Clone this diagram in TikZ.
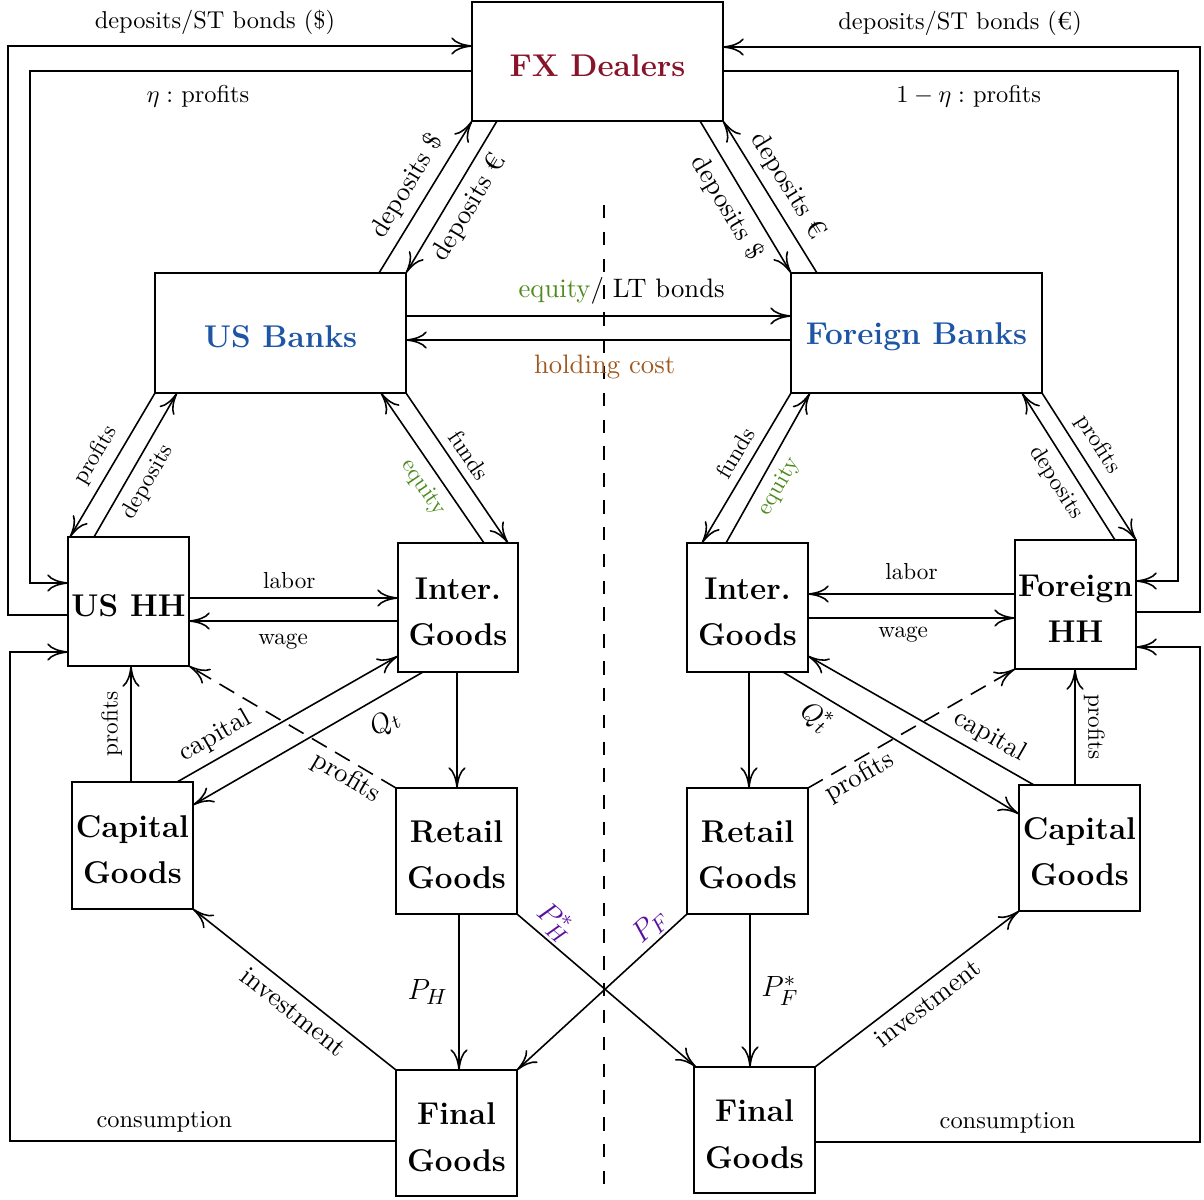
\documentclass[tikz,border=0pt]{standalone}
\usetikzlibrary{arrows.meta,calc}
\definecolor{fxred}{RGB}{135,20,42}
\definecolor{bankblue}{RGB}{30,85,165}
\definecolor{eqgreen}{RGB}{78,138,30}
\definecolor{costbrown}{RGB}{160,88,30}
\definecolor{pricepurple}{RGB}{90,15,160}
\newcommand\boxstrut{\rule{0pt}{12.4pt}}
\begin{document}
\begin{tikzpicture}[x=0.41pt,y=-0.41pt,
  >={To[length=8.5pt,width=7pt]},
  line width=0.65pt,
  box/.style={draw, line width=0.8pt, inner sep=0pt, outer sep=0pt, align=center, font=\fontsize{12.9}{15.5}\selectfont\bfseries},
  lab/.style={font=\fontsize{10}{12}\selectfont},
  mlab/.style={font=\fontsize{10.95}{13}\selectfont},
  slab/.style={font=\fontsize{9.5}{11}\selectfont},
  plab/.style={font=\fontsize{13}{15}\selectfont},
  dflow/.style={->, dash pattern=on 7pt off 4pt},
  sepline/.style={dash pattern=on 5.5pt off 5.5pt, line width=0.6pt}
]
\useasboundingbox (0,0) rectangle (1204,1199);

% separator
\draw[sepline] (604,205) -- (604,1188);

% boxes
\node[box, minimum width=251*0.41pt, minimum height=119*0.41pt, text=fxred] (fx) at (597.5,61.5) {\boxstrut FX Dealers};
\node[box, minimum width=251*0.41pt, minimum height=120*0.41pt, text=bankblue] (usb) at (280.5,333) {\boxstrut US Banks};
\node[box, minimum width=251*0.41pt, minimum height=120*0.41pt, text=bankblue] (fb) at (916.5,333) {\boxstrut Foreign Banks};
\node[box, minimum width=121*0.41pt, minimum height=129*0.41pt] (ushh) at (128.5,601.5) {\boxstrut US HH};
\node[box, minimum width=120*0.41pt, minimum height=129*0.41pt] (intL) at (458,607.5) {\boxstrut Inter.\\[3.4pt]Goods};
\node[box, minimum width=121*0.41pt, minimum height=129*0.41pt] (intR) at (747.5,607.5) {\boxstrut Inter.\\[3.4pt]Goods};
\node[box, minimum width=121*0.41pt, minimum height=129*0.41pt] (fhh) at (1075.5,604.5) {\boxstrut Foreign\\[3.4pt]HH};
\node[box, minimum width=121*0.41pt, minimum height=127*0.41pt] (capL) at (132.5,845.5) {\boxstrut Capital\\[3.4pt]Goods};
\node[box, minimum width=121*0.41pt, minimum height=126*0.41pt] (retL) at (456.5,851) {\boxstrut Retail\\[3.4pt]Goods};
\node[box, minimum width=121*0.41pt, minimum height=126*0.41pt] (retR) at (747.5,851) {\boxstrut Retail\\[3.4pt]Goods};
\node[box, minimum width=121*0.41pt, minimum height=126*0.41pt] (capR) at (1079.5,848) {\boxstrut Capital\\[3.4pt]Goods};
\node[box, minimum width=121*0.41pt, minimum height=126*0.41pt] (finL) at (456.5,1133) {\boxstrut Final\\[3.4pt]Goods};
\node[box, minimum width=121*0.41pt, minimum height=126*0.41pt] (finR) at (754.5,1130) {\boxstrut Final\\[3.4pt]Goods};

% outer loops, left
\draw[->] ($(ushh.north west)+(0,78)$) -| (8,46) -- node[lab, above=1pt, pos=0.446]{deposits/ST bonds (\$)} ($(fx.north west)+(0,44)$);
\draw[->] ($(fx.north west)+(0,69)$) -| node[lab, below=2pt, pos=0.31]{$\eta:$ profits} (30,583) -- ($(ushh.north west)+(0,46)$);
\draw[->] ($(finL.north west)+(0,71)$) -| node[lab, above, pos=0.3]{consumption} (10,652) -- ($(ushh.north west)+(0,115)$);
% outer loops, right
\draw[->] ($(fhh.north east)+(0,72)$) -| (1200,47) -- node[lab, above=1pt, pos=0.503]{deposits/ST bonds (€)} ($(fx.north east)+(0,45)$);
\draw[->] ($(fx.north east)+(0,69)$) -| node[lab, below=2pt, pos=0.27]{$1-\eta:$ profits} (1178,581) -- ($(fhh.north east)+(0,41)$);
\draw[->] ($(finR.north east)+(0,75)$) -| node[lab, above, pos=0.25]{consumption} (1200,647) -- ($(fhh.north east)+(0,107)$);

% FX dealers and banks
\draw[->] ($(usb.north west)+(224,0)$) -- node[mlab, sloped, above]{deposits \$} (fx.south west);
\draw[->] ($(fx.south west)+(25,0)$) -- node[mlab, sloped, below]{deposits €} (usb.north east);
\draw[->] ($(fx.south east)+(-23,0)$) -- node[mlab, sloped, below]{deposits \$} (fb.north west);
\draw[->] ($(fb.north west)+(26,0)$) -- node[mlab, sloped, above]{deposits €} (fx.south east);

% between banks
\draw[->] ($(usb.north east)+(0,43)$) -- node[mlab, above=1pt, pos=0.56]{\textcolor{eqgreen}{equity}/ LT bonds} ($(fb.north west)+(0,43)$);
\draw[->] ($(fb.north west)+(0,67)$) -- node[mlab, below=2.5pt, pos=0.484, text=costbrown]{holding cost} ($(usb.north east)+(0,67)$);

% US banks and agents
\draw[->] (usb.south west) -- node[slab, sloped, above]{profits} ($(ushh.north west)+(2,0)$);
\draw[->] ($(ushh.north west)+(26,0)$) -- node[slab, sloped, below, pos=0.45]{deposits} ($(usb.south west)+(22,0)$);
\draw[->] ($(intL.north west)+(86,0)$) -- node[slab, sloped, below, pos=0.44, text=eqgreen]{equity} ($(usb.south west)+(226,0)$);
\draw[->] (usb.south east) -- node[slab, sloped, above, pos=0.48]{funds} ($(intL.north west)+(110,0)$);

% foreign banks and agents
\draw[->] (fb.south west) -- node[slab, sloped, above, pos=0.46]{funds} ($(intR.north west)+(15,0)$);
\draw[->] ($(intR.north west)+(39,0)$) -- node[slab, sloped, below, pos=0.44, text=eqgreen]{equity} ($(fb.south west)+(19,0)$);
\draw[->] ($(fhh.north west)+(100,0)$) -- node[slab, sloped, below, pos=0.46]{deposits} ($(fb.south west)+(231,0)$);
\draw[->] (fb.south east) -- node[slab, sloped, above, pos=0.42]{profits} (fhh.north east);

% labor and wage
\draw[->] ($(ushh.north east)+(0,61)$) -- node[slab, above, pos=0.48]{labor} ($(intL.north west)+(0,55)$);
\draw[->] ($(intL.north west)+(0,78)$) -- node[slab, below=1.5pt, pos=0.55]{wage} ($(ushh.north east)+(0,84)$);
\draw[->] ($(fhh.north west)+(0,54)$) -- node[slab, above=2pt]{labor} ($(intR.north east)+(0,51)$);
\draw[->] ($(intR.north east)+(0,75)$) -- node[slab, below, pos=0.46]{wage} ($(fhh.north west)+(0,78)$);

% lower left
\draw[->] ($(capL.north west)+(59,0)$) -- node[slab, rotate=90, anchor=south]{profits} ($(ushh.south west)+(63,0)$);
\draw[->] ($(capL.north west)+(105,0)$) -- node[mlab, sloped, above, pos=0.22]{capital} ($(intL.north west)+(0,113)$);
\draw[->] ($(intL.south west)+(25,0)$) -- node[mlab, sloped, below=2pt, pos=0.22]{$Q_t$} ($(capL.north east)+(0,23)$);
\draw[dflow] (retL.north west) -- node[mlab, sloped, below, inner sep=1.5pt, pos=0.2]{profits} (ushh.south east);
\draw[->] ($(intL.south west)+(59,0)$) -- ($(retL.north west)+(61,0)$);

% lower right
\draw[->] ($(intR.south west)+(62,0)$) -- ($(retR.north west)+(62,0)$);
\draw[->] ($(intR.south west)+(96,0)$) -- node[mlab, sloped, below=0.5pt, pos=0.19]{$Q_t^*$} ($(capR.north west)+(0,29)$);
\draw[->] ($(capR.north west)+(15,0)$) -- node[mlab, sloped, above, pos=0.24]{capital} ($(intR.north east)+(0,113)$);
\draw[dflow] (retR.north east) -- node[mlab, sloped, below, inner sep=1.5pt, pos=0.21]{profits} (fhh.south west);
\draw[->] ($(capR.north west)+(56,0)$) -- node[slab, rotate=-90, anchor=south]{profits} ($(fhh.south west)+(60,0)$);

% bottom
\draw[->] (finL.north west) -- node[mlab, sloped, below, pos=0.45]{investment} (capL.south east);
\draw[->] ($(retL.south west)+(63,0)$) -- node[plab, left=1pt]{$P_H$} ($(finL.north west)+(63,0)$);
\draw[->] (retL.south east) -- node[plab, sloped, above, inner sep=1pt, pos=0.145, text=pricepurple]{$P_H^*$} ($(finR.north west)+(2,0)$);
\draw[->] (retR.south west) -- node[plab, sloped, above, inner sep=1pt, pos=0.154, text=pricepurple]{$P_F$} (finL.north east);
\draw[->] ($(retR.south west)+(63,0)$) -- node[plab, right=1pt]{$P_F^*$} ($(finR.north west)+(56,0)$);
\draw[->] (finR.north east) -- node[mlab, sloped, below]{investment} (capR.south west);
\end{tikzpicture}
\end{document}
